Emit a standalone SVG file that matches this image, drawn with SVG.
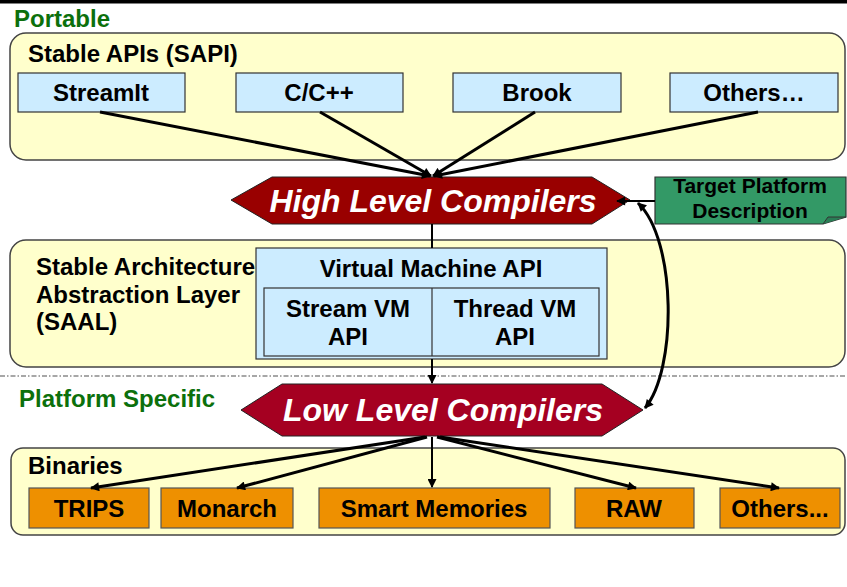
<svg xmlns="http://www.w3.org/2000/svg" width="847" height="587" viewBox="0 0 847 587">
<defs>
<marker id="ah" viewBox="0 0 10 10" refX="9" refY="5" markerWidth="11" markerHeight="9" markerUnits="userSpaceOnUse" orient="auto-start-reverse"><path d="M0,0 L10,5 L0,10 z" fill="#000"/></marker>
<style>
text{font-family:"Liberation Sans",Arial,sans-serif;font-weight:bold;fill:#000;font-size:24px}
.c{text-anchor:middle}
.g{fill:#0c700c}
.big{font-size:32px;font-style:italic;fill:#fff}
.tp{font-size:21px}
.panel{fill:#FFFFCC;stroke:#444;stroke-width:1.5}
.blue{fill:#CCECFF;stroke:#333;stroke-width:1.2}
.or{fill:#EE9000;stroke:#555;stroke-width:1.2}
.ln{stroke:#000;stroke-width:3;fill:none}
.ln2{stroke:#000;stroke-width:2;fill:none}
</style>
</defs>
<rect x="0" y="0" width="847" height="587" fill="#fff"/>
<rect x="0" y="0" width="847" height="3.5" fill="#000"/>
<line x1="0" y1="376" x2="847" y2="376" stroke="#8a8a8a" stroke-width="1.5" stroke-dasharray="5 2 1.5 2"/>

<g id="portable"><text class="g" x="14" y="27">Portable</text></g>

<g id="sapi">
<rect class="panel" x="10" y="33" width="835" height="127" rx="16"/>
<text x="28" y="62">Stable APIs (SAPI)</text>
</g>
<g id="streamit"><rect class="blue" x="18" y="73" width="167" height="39"/><text class="c" x="101" y="101">StreamIt</text></g>
<g id="cpp"><rect class="blue" x="236" y="73" width="167" height="39"/><text class="c" x="319" y="101">C/C++</text></g>
<g id="brook"><rect class="blue" x="453" y="73" width="168" height="39"/><text class="c" x="537" y="101">Brook</text></g>
<g id="others-api"><rect class="blue" x="670" y="73" width="168" height="39"/><text class="c" x="754" y="101">Others…</text></g>

<g id="hlc">
<path d="M231,200 L272,177 L592,177 L630,200 L592,224 L272,224 Z" fill="#990000" stroke="#222" stroke-width="1"/>
<text class="c big" x="433" y="212">High Level Compilers</text>
</g>

<g id="target">
<path d="M655,177 H846 V217 L823,224 H655 Z" fill="#339966" stroke="#333" stroke-width="1.2"/>
<path d="M823,224 L828,217 L846,217" fill="#2a7d55" stroke="#333" stroke-width="1"/>
<text class="c tp" x="750" y="193">Target Platform</text>
<text class="c tp" x="750" y="218">Description</text>
</g>

<g id="saal">
<rect class="panel" x="10" y="240" width="835" height="127" rx="16"/>
<text x="36" y="275">Stable Architecture</text>
<text x="36" y="303">Abstraction Layer</text>
<text x="36" y="330">(SAAL)</text>
</g>
<g id="vm">
<rect class="blue" x="256" y="248" width="351" height="111"/>
<text class="c" x="431" y="277">Virtual Machine API</text>
<rect x="264" y="288" width="335" height="68" fill="none" stroke="#333" stroke-width="1.2"/>
<line x1="432" y1="288" x2="432" y2="356" stroke="#333" stroke-width="1.2"/>
</g>
<g id="streamvm"><text class="c" x="348" y="317">Stream VM</text><text class="c" x="348" y="345">API</text></g>
<g id="threadvm"><text class="c" x="515" y="317">Thread VM</text><text class="c" x="515" y="345">API</text></g>

<g id="platform-specific"><text class="g" x="19" y="407">Platform Specific</text></g>

<g id="llc">
<path d="M241,410 L282,384 L602,384 L643,410 L602,436 L282,436 Z" fill="#A50021" stroke="#222" stroke-width="1"/>
<text class="c big" x="443" y="421">Low Level Compilers</text>
</g>

<g id="binaries">
<rect class="panel" x="11" y="448" width="834" height="87" rx="12"/>
<text x="28" y="474">Binaries</text>
</g>
<g id="trips"><rect class="or" x="29" y="488" width="120" height="40"/><text class="c" x="89" y="517">TRIPS</text></g>
<g id="monarch"><rect class="or" x="161" y="488" width="132" height="40"/><text class="c" x="227" y="517">Monarch</text></g>
<g id="smart"><rect class="or" x="319" y="488" width="231" height="40"/><text class="c" x="434" y="517">Smart Memories</text></g>
<g id="raw"><rect class="or" x="575" y="488" width="119" height="40"/><text class="c" x="634" y="517">RAW</text></g>
<g id="others-bin"><rect class="or" x="720" y="488" width="120" height="40"/><text class="c" x="780" y="517">Others...</text></g>

<g id="connectors">
<line class="ln" x1="100" y1="112" x2="430" y2="176" marker-end="url(#ah)"/>
<line class="ln" x1="320" y1="112" x2="431" y2="176" marker-end="url(#ah)"/>
<line class="ln" x1="535" y1="112" x2="433" y2="176" marker-end="url(#ah)"/>
<line class="ln" x1="758" y1="112" x2="434" y2="176" marker-end="url(#ah)"/>
<line class="ln2" x1="432" y1="224" x2="432" y2="248"/>
<line class="ln2" x1="432" y1="359" x2="432" y2="383" marker-end="url(#ah)"/>
<line class="ln2" x1="655" y1="201" x2="617" y2="201" marker-end="url(#ah)"/>
<path class="ln" d="M638,203 C677,240 677,370 645,408" marker-start="url(#ah)" marker-end="url(#ah)"/>
<line class="ln" x1="425" y1="437" x2="91" y2="488" marker-end="url(#ah)"/>
<line class="ln" x1="427" y1="437" x2="237" y2="488" marker-end="url(#ah)"/>
<line class="ln2" x1="432" y1="437" x2="432" y2="487" marker-end="url(#ah)"/>
<line class="ln" x1="437" y1="437" x2="636" y2="488" marker-end="url(#ah)"/>
<line class="ln" x1="440" y1="437" x2="779" y2="488" marker-end="url(#ah)"/>
</g>
</svg>
